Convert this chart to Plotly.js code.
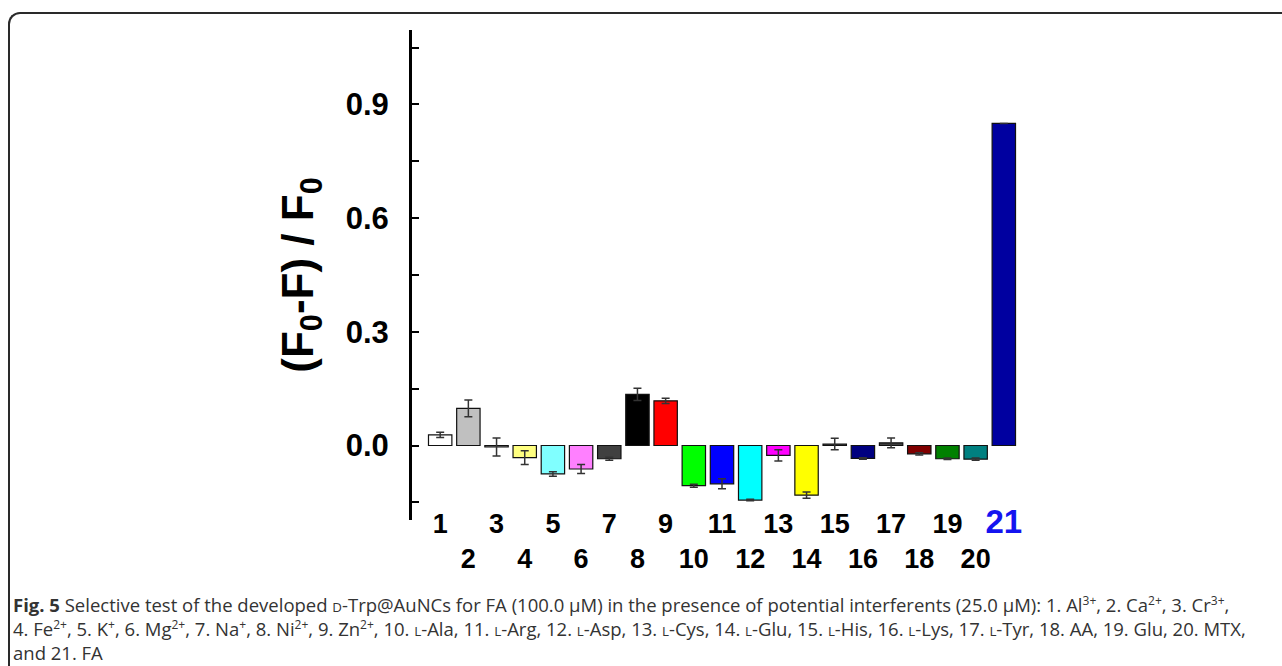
<!DOCTYPE html>
<html>
<head>
<meta charset="utf-8">
<script src="https://cdn.plot.ly/plotly-3.0.1.min.js"></script>
<style>
  html, body { margin: 0; padding: 0; background: #fff; overflow: hidden; }
  #wrap { position: relative; width: 1282px; height: 666px; }
  #frame { position: absolute; left: 8px; top: 12px; width: 1274px; height: 654px;
           border-left: 2px solid #2a2a2a; border-top: 2px solid #2a2a2a; border-top-left-radius: 12px; box-sizing: border-box; }
  #chart { position: absolute; left: 0; top: 0; width: 1282px; height: 666px; }
  .cap { position: absolute; left: 13px; font-family: 'Open Sans', sans-serif;
         font-size: 18.5px; line-height: 20px; height: 20px; color: #333; white-space: nowrap; letter-spacing: 0px; }
  .cap sup { font-size: 12px; line-height: 0; vertical-align: 7px; }
  .sc { font-size: 13.3px; }
</style>
</head>
<body>
<div id="wrap">
  <div id="frame"></div>
  <div id="chart"></div>
  <div class="cap" style="top:595px"><b>Fig. 5</b> Selective test of the developed <span class="sc">D</span>-Trp@AuNCs for FA (100.0 μM) in the presence of potential interferents (25.0 μM): 1. Al<sup>3+</sup>, 2. Ca<sup>2+</sup>, 3. Cr<sup>3+</sup>,</div>
  <div class="cap" style="top:619.2px">4. Fe<sup>2+</sup>, 5. K<sup>+</sup>, 6. Mg<sup>2+</sup>, 7. Na<sup>+</sup>, 8. Ni<sup>2+</sup>, 9. Zn<sup>2+</sup>, 10. <span class="sc">L</span>-Ala, 11. <span class="sc">L</span>-Arg, 12. <span class="sc">L</span>-Asp, 13. <span class="sc">L</span>-Cys, 14. <span class="sc">L</span>-Glu, 15. <span class="sc">L</span>-His, 16. <span class="sc">L</span>-Lys, 17. <span class="sc">L</span>-Tyr, 18. AA, 19. Glu, 20. MTX,</div>
  <div class="cap" style="top:643.4px">and 21. FA</div>
</div>
<script>
// ---- data ----
const positions = [1,2,3,4,5,6,7,8,9,10,11,12,13,14,15,16,17,18,19,20,21];
const tickLabels = ['1','2','3','4','5','6','7','8','9','10','11','12','13','14','15','16','17','18','19','20','21'];
const values = [0.028, 0.098, -0.004, -0.032, -0.075, -0.062, -0.035, 0.135, 0.118, -0.106,
                -0.101, -0.144, -0.026, -0.131, 0.004, -0.034, 0.007, -0.022, -0.035, -0.036, 0.850];
const errors = [0.007, 0.022, 0.024, 0.018, 0.006, 0.012, 0.004, 0.016, 0.007, 0.004,
                0.013, 0.002, 0.015, 0.008, 0.015, 0.002, 0.013, 0.003, 0.002, 0.003, 0];
const barColors = ['#FFFFFF', '#C0C0C0', '#808080', '#FFFF80', '#80FFFF', '#FF80FF', '#404040',
                   '#000000', '#FF0000', '#00FF00', '#0000FF', '#00FFFF', '#FF00FF', '#FFFF00',
                   '#404040', '#000080', '#404040', '#800000', '#008000', '#008080', '#0000A0'];
const yRange = [-0.1966, 1.0966];
const xRange = [0, 22];

// tick labels staggered on two rows; last one highlighted
const tickText = tickLabels.map((t, i) => {
  if (i === tickLabels.length - 1) return '<span style="color:#1414F0;font-size:33px">' + t + '</span>';
  return (i % 2 === 0) ? t : '<br>' + t;
});

const zeroPos = (0 - yRange[0]) / (yRange[1] - yRange[0]);

const trace = {
  type: 'bar',
  x: positions,
  y: values,
  width: 0.83,
  marker: { color: barColors, line: { color: '#111', width: 1.2 } },
  error_y: { type: 'data', array: errors, visible: true, color: '#333', thickness: 1.5, width: 4 },
  hoverinfo: 'x+y'
};

const layout = {
  width: 1282, height: 666,
  margin: { l: 412, r: 250, t: 30, b: 146 },
  paper_bgcolor: 'rgba(0,0,0,0)',
  plot_bgcolor: 'rgba(0,0,0,0)',
  showlegend: false,
  font: { family: 'Liberation Sans, Arial, sans-serif', color: '#000' },
  xaxis: {
    range: xRange,
    anchor: 'free', position: 0.031,
    showline: false, showgrid: false, zeroline: false, ticks: '',
    tickangle: 0,
    tickmode: 'array', tickvals: positions, ticktext: tickText,
    tickfont: { size: 27, family: 'Liberation Sans, Arial, sans-serif', weight: 'bold', color: '#000' }
  },
  xaxis2: {
    range: xRange, overlaying: 'x',
    anchor: 'free', position: zeroPos,
    showline: true, linewidth: 3, linecolor: '#000',
    showgrid: false, zeroline: false, showticklabels: false,
    ticks: 'inside', tick0: 0, dtick: 5, ticklen: 9, tickwidth: 3, tickcolor: '#000',
    minor: { ticks: 'inside', dtick: 2.5, tick0: 0, ticklen: 4, tickwidth: 3, tickcolor: '#000', showgrid: false }
  },
  yaxis: {
    range: yRange,
    showline: true, linewidth: 3, linecolor: '#000',
    showgrid: false, zeroline: false,
    ticks: 'inside', tick0: 0, dtick: 0.3, ticklen: 7, tickwidth: 2, tickcolor: '#000',
    minor: { ticks: 'inside', dtick: 0.15, tick0: 0, ticklen: 7, tickwidth: 2, tickcolor: '#000', showgrid: false },
    tickformat: '.1f',
    ticklabelstandoff: 14,
    tickfont: { size: 31, family: 'Liberation Sans, Arial, sans-serif', weight: 'bold', color: '#000' },
    title: {
      text: '(F<sub>0</sub>-F) / F<sub>0</sub>',
      standoff: 19,
      font: { size: 44, family: 'Liberation Sans, Arial, sans-serif', weight: 'bold', color: '#000' }
    }
  }
};

Plotly.newPlot('chart', [trace], layout, { displayModeBar: false, staticPlot: true });
</script>
</body>
</html>
